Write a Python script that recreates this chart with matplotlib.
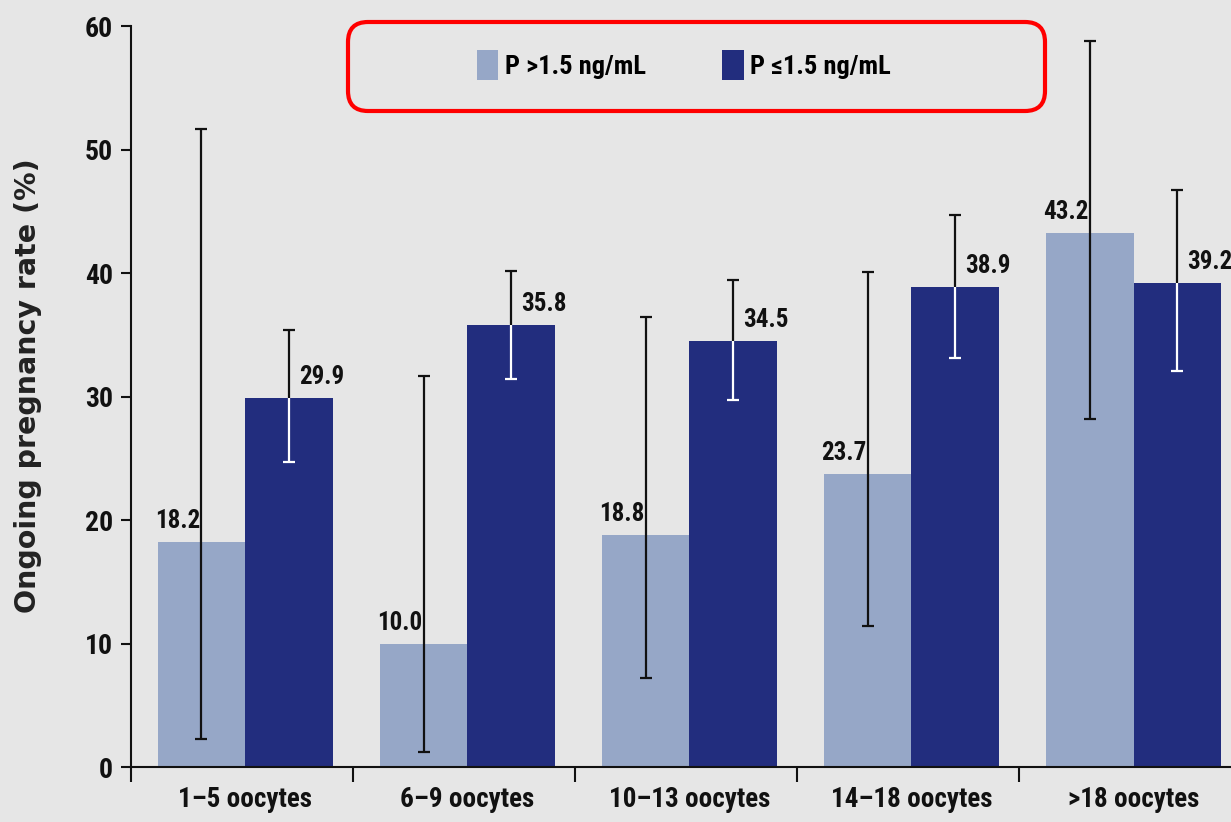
import matplotlib
matplotlib.use('Agg')
import matplotlib.pyplot as plt
from matplotlib import font_manager as fm
from matplotlib.patches import FancyBboxPatch
from matplotlib.transforms import IdentityTransform
import numpy as np

# ---- data ----
categories = ['1–5 oocytes', '6–9 oocytes', '10–13 oocytes', '14–18 oocytes', '>18 oocytes']
series_names = ['P >1.5 ng/mL', 'P ≤1.5 ng/mL']
high_p = [18.2, 10.0, 18.8, 23.7, 43.2]
high_p_lo = [2.3, 1.2, 7.2, 11.4, 28.2]
high_p_hi = [51.7, 31.7, 36.4, 40.1, 58.8]
low_p = [29.9, 35.8, 34.5, 38.9, 39.2]
low_p_lo = [24.7, 31.4, 29.7, 33.1, 32.1]
low_p_hi = [35.4, 40.2, 39.4, 44.7, 46.7]
y_ticks = [0, 10, 20, 30, 40, 50, 60]

# ---- style ----
BG = '#e6e6e6'
LIGHT = '#96a7c7'
DARK = '#222d7e'
INK = '#111111'

names = {f.name for f in fm.fontManager.ttflist}
narrow = next((n for n in ['Liberation Sans Narrow', 'Roboto Condensed', 'Open Sans Condensed',
                           'Arial Narrow', 'Liberation Sans'] if n in names), 'DejaVu Sans')
FAM = [narrow, 'DejaVu Sans']

W, H = 1231, 822
fig = plt.figure(figsize=(W / 100, H / 100), dpi=100, facecolor=BG)
ax = fig.add_axes([131 / W, 55 / H, 1110.5 / W, 741 / H])
ax.set_facecolor(BG)

n = len(categories)
x = np.arange(n) + 0.5 + 0.014
w = 0.394
xl = x - w / 2
xd = x + w / 2

b1 = ax.bar(xl, high_p, w, color=LIGHT, label=series_names[0], zorder=2, linewidth=0)
b2 = ax.bar(xd, low_p, w, color=DARK, label=series_names[1], zorder=2, linewidth=0)

lw = 1.6
cap = 0.027
# light bars: black error bars
ax.vlines(xl, high_p_lo, high_p_hi, color=INK, lw=lw, zorder=3)
ax.hlines(high_p_lo, xl - cap, xl + cap, color=INK, lw=lw, zorder=3)
ax.hlines(high_p_hi, xl - cap, xl + cap, color=INK, lw=lw, zorder=3)
# dark bars: black above bar, white inside bar
ax.vlines(xd, low_p, low_p_hi, color=INK, lw=lw, zorder=3)
ax.hlines(low_p_hi, xd - cap, xd + cap, color=INK, lw=lw, zorder=3)
ax.vlines(xd, low_p_lo, low_p, color='white', lw=lw, zorder=3)
ax.hlines(low_p_lo, xd - cap, xd + cap, color='white', lw=lw, zorder=3)

px = 0.72  # points per pixel
for xi, v in zip(xl - w / 2, high_p):
    ax.annotate(f'{v:.1f}', (xi, v), xytext=(-3 * px, 14 * px), textcoords='offset points',
                ha='left', va='baseline', fontsize=18, fontweight='bold', family=FAM, color=INK)
for xi, v in zip(xd, low_p):
    ax.annotate(f'{v:.1f}', (xi, v), xytext=(10 * px, 14 * px), textcoords='offset points',
                ha='left', va='baseline', fontsize=18, fontweight='bold', family=FAM, color=INK)

ax.set_xlim(0, n)
ax.set_ylim(0, 60)

ax.set_yticks(y_ticks)
ax.set_yticklabels([str(t) for t in y_ticks], fontsize=20, fontweight='bold', family=FAM, color=INK)
ax.tick_params(axis='y', length=7, width=1.5, pad=6, color=INK)

ax.set_xticks(x)
ax.set_xticklabels(categories, fontsize=19.5, fontweight='bold', family=FAM, color=INK)
ax.tick_params(axis='x', which='major', length=0, pad=14)
ax.set_xticks(np.arange(n), minor=True)
ax.tick_params(axis='x', which='minor', length=11, width=1.5, direction='out', color=INK)

for s in ['top', 'right']:
    ax.spines[s].set_visible(False)
for s in ['left', 'bottom']:
    ax.spines[s].set_linewidth(1.5)
    ax.spines[s].set_color(INK)

ax.set_ylabel('Ongoing pregnancy rate (%)', fontsize=20.5, fontweight='bold',
              family='DejaVu Sans', color='#222222')
ax.yaxis.set_label_coords((28 - 131) / 1110.5, (767 - 386) / 741)
ax.yaxis.label.set_va('center')

fig.legend(handles=[b1, b2], labels=series_names, loc='center',
           bbox_to_anchor=(684 / W, 1 - 65 / H), ncol=2, frameon=False,
           prop=dict(family=FAM, weight='bold', size=19),
           handlelength=0.8, handleheight=1.4, handletextpad=0.25, columnspacing=2.9)

box = FancyBboxPatch((348, H - 111), 697, 89, boxstyle='round,pad=0,rounding_size=20',
                     transform=IdentityTransform(), fill=False, ec='#ff0000', lw=3)
fig.add_artist(box)

fig.savefig('out.png', dpi=100, facecolor=BG)
